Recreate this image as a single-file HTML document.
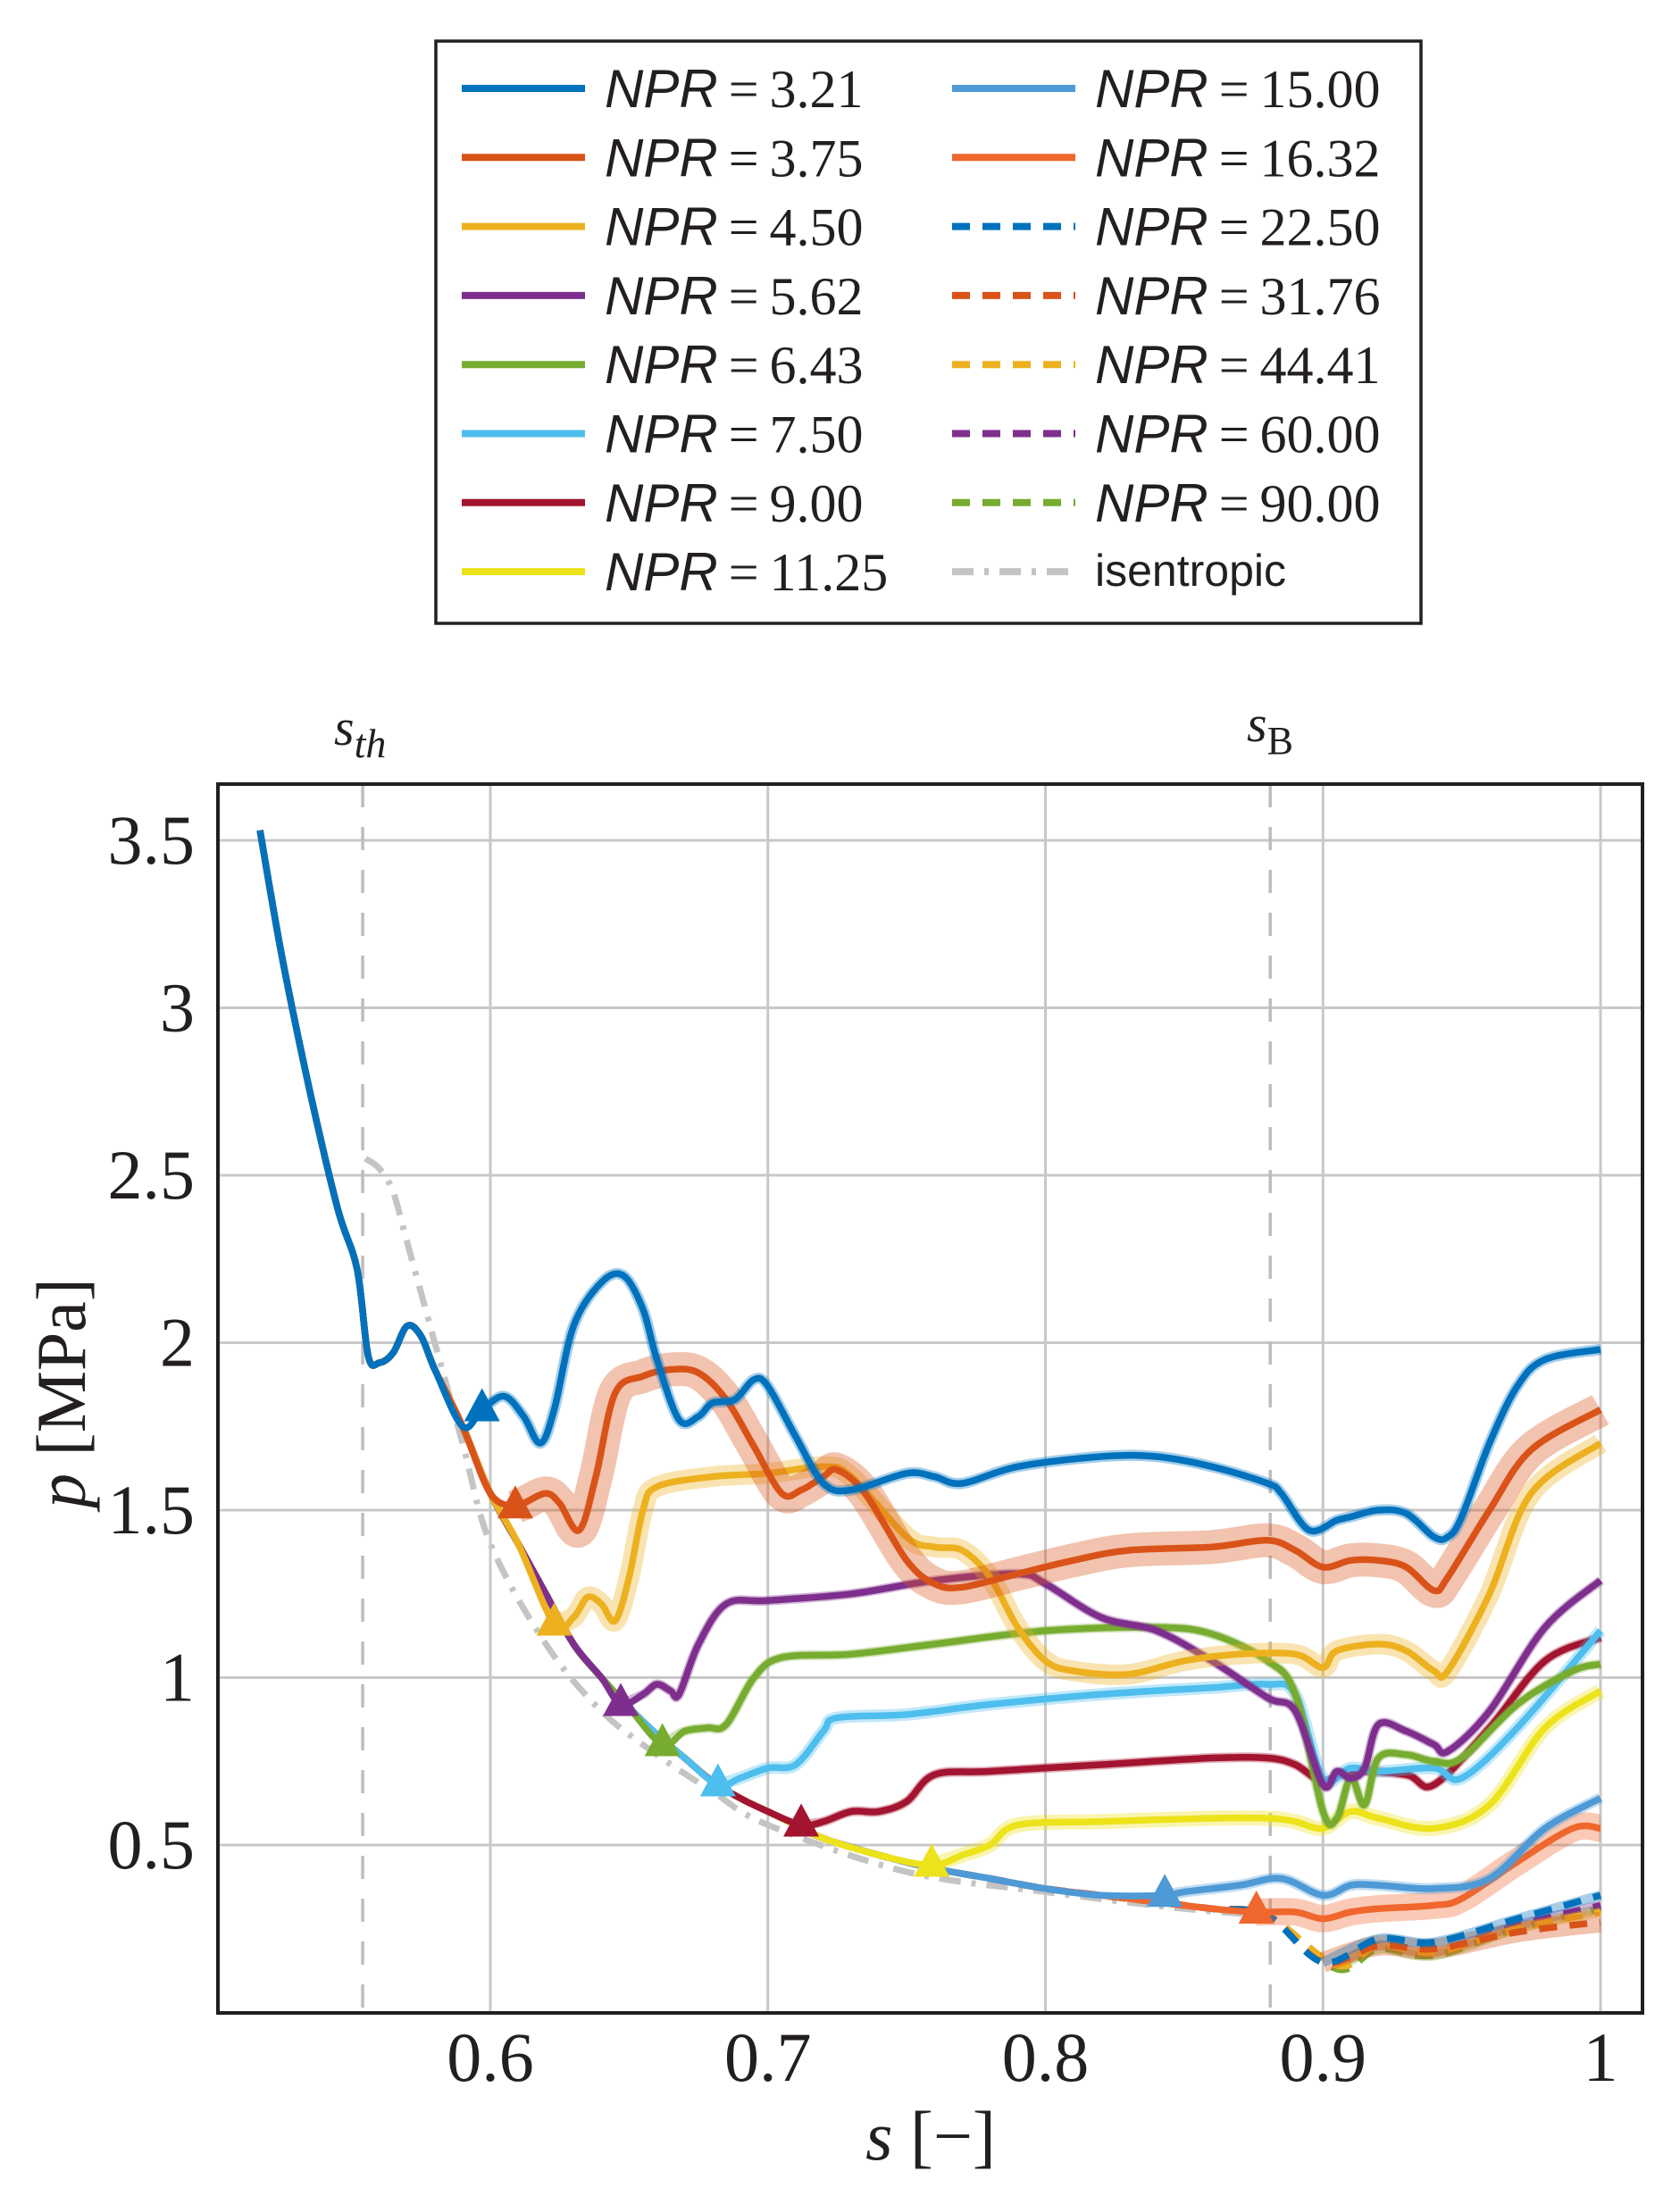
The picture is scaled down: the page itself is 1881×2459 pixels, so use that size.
<!DOCTYPE html>
<html><head><meta charset="utf-8"><style>
body{margin:0;background:#fff}
svg{display:block}
text{font-family:"Liberation Serif",serif;fill:#231f20}
</style></head><body>
<svg id="c" width="1881" height="2459" viewBox="0 0 1881 2459"></svg>
<script>
const baseS=[0.517,0.525,0.535,0.545,0.552,0.556,0.560,0.565,0.570,0.575,0.580,0.590,0.600,0.610,0.620,0.630,0.640,0.650,0.660,0.670,0.680,0.690,0.700,0.710,0.720,0.740,0.760,0.780,0.800,0.820,0.840,0.860,0.880,0.890,0.900,0.910,0.920,0.940,0.960,0.980,1.000];
const baseP=[3.53,3.15,2.75,2.40,2.22,1.96,1.94,1.97,2.05,2.02,1.92,1.75,1.55,1.40,1.25,1.10,1.00,0.91,0.83,0.76,0.69,0.64,0.60,0.56,0.52,0.47,0.43,0.40,0.37,0.35,0.33,0.31,0.29,0.24,0.15,0.18,0.20,0.18,0.22,0.28,0.31];
const isoS=[0.555,0.560,0.565,0.570,0.580,0.590,0.600,0.620,0.640,0.660,0.680,0.700,0.750,0.800,0.850,0.880];
const isoP=[2.55,2.52,2.45,2.30,2.00,1.70,1.40,1.10,0.90,0.77,0.66,0.56,0.42,0.36,0.31,0.29];
const names=["3.21","3.75","4.50","5.62","6.43","7.50","9.00","11.25","15.00","16.32","22.50","31.76","44.41","60.00","90.00"];
const colors=["#0072BD","#D95319","#EDB120","#7E2F8E","#77AC30","#4DBEEE","#A2142F","#EDE31A","#4D9AD6","#F0672E","#0072BD","#D95319","#EDB120","#7E2F8E","#77AC30"];
const sepS=[0.597,0.609,0.623,0.647,0.662,0.682,0.712,0.759,0.843,0.876,0.889,0.889,0.889,0.889,0.889];
const sepP=[1.80,1.51,1.16,0.92,0.80,0.68,0.56,0.44,0.35,0.30,null,null,null,null,null];
const ownS=[
[0.605,0.612,0.618,0.623,0.630,0.640,0.648,0.655,0.660,0.668,0.675,0.680,0.688,0.695,0.700,0.710,0.720,0.730,0.750,0.760,0.770,0.790,0.820,0.840,0.860,0.880,0.885,0.895,0.905,0.910,0.920,0.930,0.940,0.945,0.950,0.960,0.970,0.980,1.000],
[0.612,0.620,0.625,0.632,0.638,0.645,0.655,0.665,0.675,0.685,0.695,0.705,0.712,0.720,0.725,0.735,0.750,0.760,0.770,0.790,0.810,0.830,0.860,0.880,0.890,0.900,0.910,0.920,0.930,0.940,0.945,0.960,0.975,1.000],
[0.630,0.635,0.640,0.645,0.650,0.655,0.660,0.680,0.700,0.720,0.730,0.750,0.760,0.770,0.780,0.790,0.800,0.810,0.830,0.850,0.870,0.890,0.900,0.905,0.920,0.930,0.940,0.945,0.960,0.975,1.000],
[0.655,0.660,0.665,0.668,0.675,0.685,0.700,0.730,0.760,0.790,0.800,0.820,0.840,0.860,0.880,0.890,0.900,0.905,0.910,0.915,0.920,0.930,0.940,0.945,0.960,0.980,1.000],
[0.670,0.678,0.685,0.695,0.705,0.730,0.760,0.800,0.840,0.860,0.880,0.890,0.900,0.905,0.910,0.915,0.920,0.930,0.940,0.950,0.970,0.990,1.000],
[0.690,0.700,0.710,0.720,0.725,0.750,0.780,0.820,0.860,0.880,0.890,0.900,0.910,0.920,0.940,0.950,0.970,1.000],
[0.720,0.730,0.740,0.750,0.760,0.780,0.820,0.860,0.880,0.890,0.900,0.910,0.930,0.940,0.960,0.980,1.000],
[0.770,0.780,0.790,0.820,0.860,0.880,0.890,0.900,0.910,0.920,0.940,0.960,0.980,1.000],
[0.850,0.870,0.885,0.900,0.910,0.920,0.940,0.960,0.980,1.000],
[0.890,0.900,0.910,0.920,0.940,0.950,0.970,0.990,1.000],
[0.900,0.920,0.940,0.970,1.000],
[0.900,0.920,0.940,0.970,1.000],
[0.905,0.920,0.940,0.970,1.000],
[0.905,0.920,0.940,0.970,1.000],
[0.905,0.920,0.940,0.970,1.000]];
const ownP=[
[1.84,1.78,1.70,1.80,2.05,2.18,2.20,2.10,1.95,1.77,1.78,1.82,1.83,1.89,1.87,1.72,1.58,1.56,1.61,1.60,1.58,1.63,1.66,1.66,1.63,1.58,1.55,1.44,1.47,1.48,1.50,1.49,1.42,1.42,1.48,1.70,1.87,1.95,1.98],
[1.52,1.55,1.52,1.44,1.60,1.85,1.90,1.92,1.91,1.83,1.69,1.55,1.56,1.60,1.62,1.55,1.35,1.28,1.27,1.31,1.35,1.38,1.39,1.41,1.38,1.33,1.35,1.35,1.33,1.26,1.30,1.50,1.68,1.80],
[1.18,1.24,1.22,1.17,1.30,1.50,1.57,1.60,1.61,1.63,1.60,1.42,1.39,1.38,1.30,1.15,1.05,1.02,1.01,1.05,1.07,1.07,1.03,1.08,1.10,1.08,1.02,1.02,1.25,1.55,1.70],
[0.95,0.98,0.96,0.95,1.10,1.22,1.23,1.25,1.29,1.31,1.28,1.18,1.14,1.05,0.94,0.90,0.68,0.72,0.70,0.73,0.86,0.84,0.80,0.78,0.90,1.15,1.29],
[0.84,0.85,0.86,1.00,1.06,1.07,1.10,1.14,1.15,1.13,1.05,0.95,0.60,0.58,0.70,0.62,0.76,0.77,0.75,0.76,0.92,1.02,1.04],
[0.70,0.73,0.74,0.84,0.88,0.89,0.92,0.95,0.97,0.98,0.95,0.70,0.73,0.72,0.73,0.70,0.85,1.14],
[0.57,0.60,0.60,0.63,0.71,0.72,0.74,0.76,0.76,0.74,0.69,0.72,0.71,0.68,0.85,1.05,1.12],
[0.47,0.50,0.56,0.57,0.58,0.58,0.57,0.55,0.60,0.58,0.55,0.62,0.85,0.96],
[0.36,0.38,0.40,0.35,0.38,0.38,0.37,0.40,0.55,0.64],
[0.30,0.28,0.30,0.31,0.32,0.34,0.45,0.55,0.55],
[0.15,0.22,0.21,0.28,0.35],
[0.15,0.20,0.19,0.24,0.27],
[0.14,0.20,0.18,0.25,0.30],
[0.14,0.20,0.18,0.26,0.32],
[0.13,0.19,0.17,0.25,0.31]];
const xTicks=[0.6,0.7,0.8,0.9,1.0];
const xTickLabels=["0.6","0.7","0.8","0.9","1"];
const yTicks=[0.5,1,1.5,2,2.5,3,3.5];
const yTickLabels=["0.5","1","1.5","2","2.5","3","3.5"];

const L=244,R=1839,T=878,B=2254;
const X=s=>549+(s-0.6)*3107.5;
const Y=p=>2253.5-p*375;
const svg=document.getElementById('c');
const NS='http://www.w3.org/2000/svg';
function mk(tag,attrs,parent){const e=document.createElementNS(NS,tag);for(const k in attrs)e.setAttribute(k,attrs[k]);(parent||svg).appendChild(e);return e;}
function pathD(xs,ys){
  const P=xs.map((s,i)=>[X(s),Y(ys[i])]);
  let d='M'+P[0][0].toFixed(1)+','+P[0][1].toFixed(1);
  for(let i=0;i<P.length-1;i++){
    const p0=P[Math.max(0,i-1)],p1=P[i],p2=P[i+1],p3=P[Math.min(P.length-1,i+2)];
    const c1=[p1[0]+(p2[0]-p0[0])/6,p1[1]+(p2[1]-p0[1])/6];
    const c2=[p2[0]-(p3[0]-p1[0])/6,p2[1]-(p3[1]-p1[1])/6];
    d+='C'+c1[0].toFixed(1)+','+c1[1].toFixed(1)+' '+c2[0].toFixed(1)+','+c2[1].toFixed(1)+' '+p2[0].toFixed(1)+','+p2[1].toFixed(1);
  }
  return d;
}
xTicks.forEach((t,i)=>{
  const g=mk('line',{x1:X(t),x2:X(t),y1:T,y2:B,stroke:'#c8c8c8','stroke-width':3});
  
  
  const tx=mk('text',{x:X(t),y:2330,'font-size':78,'text-anchor':'middle'});tx.textContent=xTickLabels[i];
  
  
});
yTicks.forEach((t,i)=>{
  const g=mk('line',{x1:L,x2:R,y1:Y(t),y2:Y(t),stroke:'#c8c8c8','stroke-width':3});
  
  
  const tx=mk('text',{x:218,y:Y(t)+26,'font-size':78,'text-anchor':'end'});tx.textContent=yTickLabels[i];
  
  
});
[[0.554,'s-th-line'],[0.881,'s-b-line']].forEach(v=>{
  const l=mk('line',{x1:X(v[0]),x2:X(v[0]),y1:T,y2:B,stroke:'#bdbdbd','stroke-width':3.5,'stroke-dasharray':'26 22'});
  
  
});
const iso=mk('path',{d:pathD(isoS,isoP),fill:'none',stroke:'#c4c4c4','stroke-width':7,'stroke-dasharray':'24 12 5 12'});


const bands=[0.006,0.04,0.02,0.004,0.004,0.008,0.004,0.012,0.006,0.03,0.004,0.02,0.004,0.004,0.004];
for(let k=names.length-1;k>=0;k--){
  const xs=[],ys=[];
  baseS.forEach((s,i)=>{if(s<sepS[k]-0.004){xs.push(s);ys.push(baseP[i]);}});
  const bx=[],by=[];
  if(sepP[k]!==null){xs.push(sepS[k]);ys.push(sepP[k]);bx.push(sepS[k]);by.push(sepP[k]);}
  ownS[k].forEach((s,i)=>{xs.push(s);ys.push(ownP[k][i]);bx.push(s);by.push(ownP[k][i]);});
  const band=mk('path',{d:pathD(bx,by),fill:'none',stroke:colors[k],'stroke-opacity':0.35,'stroke-width':8+bands[k]*375*2,'stroke-linejoin':'round','stroke-linecap':'butt'});
  
  
  const p=mk('path',{d:pathD(xs,ys),fill:'none',stroke:colors[k],'stroke-width':7.5,'stroke-linejoin':'round','stroke-dasharray':k>=10?'20 14':'none'});
  
  
}
for(let k=0;k<10;k++){
  const cx=X(sepS[k]),cy=Y(sepP[k]);
  const m=mk('polygon',{points:`${cx},${cy-24} ${cx-20},${cy+13} ${cx+20},${cy+13}`,fill:colors[k]});
  
  
}
const fr=mk('rect',{x:L,y:T,width:R-L,height:B-T,fill:'none',stroke:'#231f20','stroke-width':4});


function txt(s,attrs,name,html){const t=mk('text',attrs);if(html)t.innerHTML=s;else t.textContent=s;return t;}
txt('<tspan font-style="italic">s</tspan> [−]',{x:1042,y:2418,'font-size':78,'text-anchor':'middle'},'x-axis-title',true);
txt('<tspan font-style="italic">p</tspan> [MPa]',{x:95,y:1560,'font-size':78,'text-anchor':'middle',transform:'rotate(-90 95 1560)'},'y-axis-title',true);
txt('<tspan font-style="italic">s</tspan><tspan font-style="italic" font-size="46" dy="14">th</tspan>',{x:374,y:834,'font-size':58},'s-th-label',true);
txt('<tspan font-style="italic">s</tspan><tspan font-size="44" dy="14">B</tspan>',{x:1396,y:830,'font-size':58},'s-b-label',true);
const lg=mk('rect',{x:488,y:46,width:1103,height:652,fill:'#fff',stroke:'#231f20','stroke-width':3.5});


const lnames=names.concat(['isentropic']);
const lcols=colors.concat(['#c4c4c4']);
lnames.forEach((n,i)=>{
  const col=i<8?0:1,row=i%8;
  const x0=col?1066:517,y0=99+row*77.3;
  const dash=i>=10&&i<15?'20 14':(i==15?'24 12 5 12':'none');
  const l=mk('line',{x1:x0,x2:x0+138,y1:y0,y2:y0,stroke:lcols[i],'stroke-width':8,'stroke-dasharray':dash});
  
  
  if(i==15){const t=txt('isentropic',{x:x0+160,y:y0+16,'font-size':50},'legend-entry');t.style.fontFamily='"Liberation Sans",sans-serif';}
  else {txt('<tspan font-family="Liberation Sans" font-style="italic">NPR</tspan><tspan dx="12">=</tspan><tspan dx="12">'+n+'</tspan>',{x:x0+160,y:y0+21,'font-size':60},'legend-entry',true);}
});
</script>
</body></html>
